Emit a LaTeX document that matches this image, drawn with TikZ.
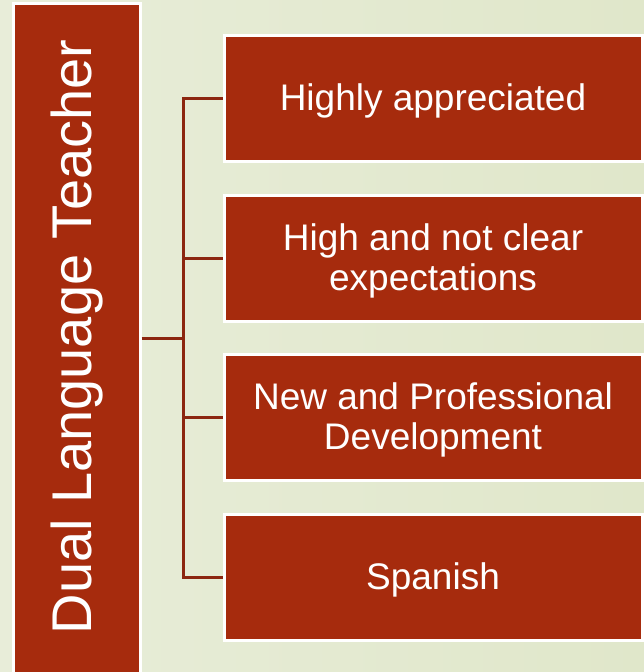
\documentclass[tikz,border=0pt]{standalone}
\usepackage{fontspec}
\setmainfont{Liberation Sans}
\definecolor{boxred}{RGB}{166,43,13}
\definecolor{connred}{RGB}{140,38,16}
\definecolor{bgleft}{RGB}{232,237,217}
\definecolor{bgright}{RGB}{224,231,202}
\begin{document}
\begin{tikzpicture}[x=1pt,y=-1pt,
  redbox/.style={draw=white,line width=3pt,fill=boxred,text=white,inner sep=0pt},
  rbox/.style={redbox,minimum width=418pt,minimum height=126pt,align=center,
    font=\fontsize{37}{40}\selectfont},
  rtext/.style={text=white,align=center,inner sep=0pt,font=\fontsize{37}{40}\selectfont},
  conn/.style={draw=connred,line width=3pt}]
\useasboundingbox (0,0) rectangle (644,672);
\shade[left color=bgleft,right color=bgright] (0,0) rectangle (644,672);
\begin{scope}
\clip (0,0) rectangle (644,672);
\node[redbox,minimum width=127pt,minimum height=700pt] (L) at (76.5,353) {};
\end{scope}
\node[text=white,rotate=90,font=\fontsize{56}{60}\selectfont,inner sep=0pt] (Lt) at (77,337) {Dual Language Teacher};
\node[rbox] (A) at (433,98) {};
\node[rbox] (B) at (433,258) {};
\node[rbox] (C) at (433,417) {};
\node[rbox] (D) at (433,577) {};
\node[rtext] at ([yshift=-3pt]A.center) {Highly appreciated};
\node[rtext] at ([yshift=-3pt]B.center) {High and not clear\\expectations};
\node[rtext] at ([yshift=-3pt]C.center) {New and Professional\\Development};
\node[rtext] at ([yshift=-3pt]D.center) {Spanish};
\coordinate (j) at (183,338);
\draw[conn] (L.east |- j) -- (j);
\draw[conn,line cap=rect] (j |- A.west) -- (j |- D.west);
\foreach \n in {A,B,C,D} \draw[conn] (j |- \n.west) -- (\n.west);
\end{tikzpicture}
\end{document}
